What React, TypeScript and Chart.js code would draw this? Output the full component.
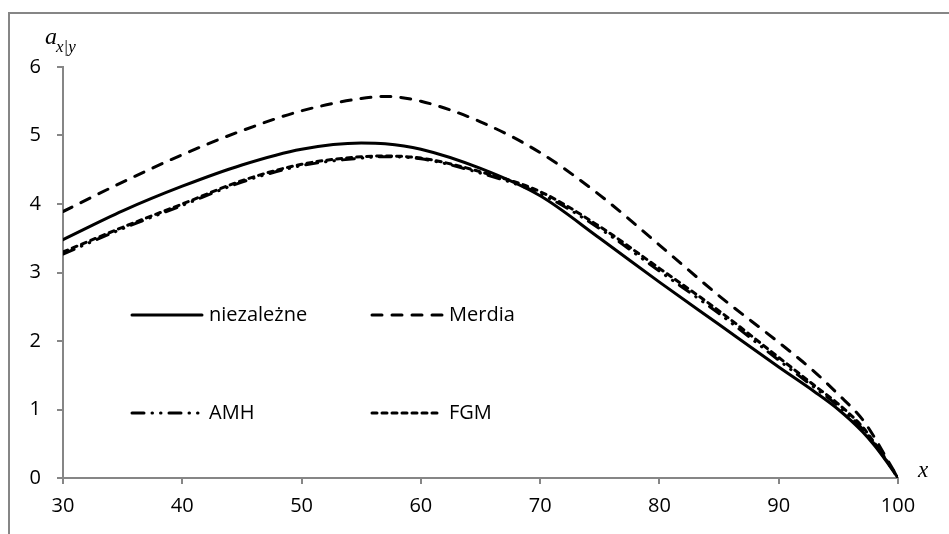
import React, { useEffect, useRef } from "react";
import { Chart, registerables } from "chart.js";

Chart.register(...registerables);

const xValues = [30, 35, 40, 45, 50, 55, 57, 60, 65, 70, 75, 80, 85, 90, 93, 95, 97, 98, 99, 100];
const niezalezne = [3.48, 3.9, 4.26, 4.57, 4.8, 4.89, 4.88, 4.8, 4.52, 4.12, 3.5, 2.86, 2.24, 1.62, 1.26, 1.0, 0.68, 0.48, 0.25, 0];
const merdia = [3.89, 4.32, 4.72, 5.07, 5.36, 5.54, 5.57, 5.5, 5.2, 4.75, 4.13, 3.4, 2.66, 1.98, 1.55, 1.22, 0.86, 0.6, 0.3, 0];
const amh = [3.27, 3.64, 3.98, 4.32, 4.56, 4.67, 4.69, 4.66, 4.45, 4.15, 3.64, 3.02, 2.4, 1.72, 1.32, 1.05, 0.72, 0.5, 0.26, 0];
const fgm = [3.3, 3.66, 4.0, 4.34, 4.58, 4.69, 4.7, 4.67, 4.47, 4.18, 3.67, 3.06, 2.44, 1.76, 1.35, 1.08, 0.75, 0.52, 0.27, 0];

const seriesNames = ["niezależne", "Merdia", "AMH", "FGM"];
const xTicks = [30, 40, 50, 60, 70, 80, 90, 100];
const yTicks = [0, 1, 2, 3, 4, 5, 6];

const FONT = "'Open Sans', sans-serif";
const AXIS_GRAY = "#868686";

const toPoints = (ys: number[]) => xValues.map((x, i) => ({ x, y: ys[i] }));

const extrasPlugin = {
  id: "extras",
  afterDraw(chart: any) {
    const ctx = chart.ctx as CanvasRenderingContext2D;
    const area = chart.chartArea;
    ctx.save();
    // legend (2x2 grid inside plot)
    const cols = [69, 309];
    const rows = [248, 346];
    const sampleLen = 70;
    chart.data.datasets.forEach((ds: any, i: number) => {
      const cx = area.left + cols[i % 2];
      const cy = area.top + rows[Math.floor(i / 2)];
      ctx.save();
      ctx.strokeStyle = ds.borderColor;
      ctx.lineWidth = ds.borderWidth;
      ctx.lineCap = ds.borderCapStyle || "butt";
      ctx.setLineDash(ds.borderDash || []);
      ctx.beginPath();
      ctx.moveTo(cx, cy);
      ctx.lineTo(cx + sampleLen, cy);
      ctx.stroke();
      ctx.restore();
      ctx.fillStyle = "#000";
      ctx.font = `20px ${FONT}`;
      ctx.textBaseline = "middle";
      ctx.textAlign = "left";
      ctx.fillText(ds.label, cx + sampleLen + 7, cy);
    });
    // axis titles
    ctx.fillStyle = "#000";
    ctx.textBaseline = "alphabetic";
    ctx.textAlign = "left";
    ctx.font = "italic 24px 'Liberation Serif', serif";
    ctx.fillText("a", area.left - 18, area.top - 23);
    ctx.font = "italic 17px 'Liberation Serif', serif";
    ctx.fillText("x|y", area.left - 7, area.top - 15.5);
    ctx.font = "italic 23px 'Liberation Serif', serif";
    ctx.fillText("x", area.right + 20, area.bottom - 1);
    ctx.restore();
  },
};

export default function App() {
  const canvasRef = useRef<HTMLCanvasElement | null>(null);

  useEffect(() => {
    if (!canvasRef.current) return;
    const common = {
      borderColor: "#000",
      borderWidth: 3,
      pointRadius: 0,
      fill: false,
      cubicInterpolationMode: "monotone" as const,
      borderCapStyle: "round" as const,
      borderJoinStyle: "round" as const,
    };
    const chart = new Chart(canvasRef.current, {
      type: "line",
      data: {
        datasets: [
          { ...common, label: seriesNames[0], data: toPoints(niezalezne), borderDash: [] },
          { ...common, label: seriesNames[1], data: toPoints(merdia), borderDash: [10, 10] },
          { ...common, label: seriesNames[2], data: toPoints(amh), borderDash: [12, 8, 0.5, 8, 0.5, 8] },
          { ...common, label: seriesNames[3], data: toPoints(fgm), borderDash: [5, 5] },
        ],
      },
      options: {
        animation: false,
        responsive: false,
        maintainAspectRatio: false,
        layout: { padding: { left: 0, top: 53, right: 51, bottom: 0 } },
        plugins: { legend: { display: false }, tooltip: { enabled: false }, title: { display: false } },
        scales: {
          x: {
            type: "linear",
            min: 30,
            max: 100,
            afterBuildTicks: (scale: any) => {
              scale.ticks = xTicks.map((v) => ({ value: v }));
            },
            afterFit: (scale: any) => {
              scale.height = 56;
            },
            grid: { display: true, drawOnChartArea: false, drawTicks: true, tickLength: 6, color: AXIS_GRAY, lineWidth: 2 },
            border: { display: true, color: AXIS_GRAY, width: 2 },
            ticks: { color: "#000", font: { family: FONT, size: 20 }, padding: 10, maxRotation: 0 },
          },
          y: {
            type: "linear",
            min: 0,
            max: 6,
            afterBuildTicks: (scale: any) => {
              scale.ticks = yTicks.map((v) => ({ value: v }));
            },
            afterFit: (scale: any) => {
              scale.width = 53;
            },
            grid: { display: true, drawOnChartArea: false, drawTicks: true, tickLength: 6, color: AXIS_GRAY, lineWidth: 2 },
            border: { display: true, color: AXIS_GRAY, width: 2 },
            ticks: { color: "#000", font: { family: FONT, size: 20 }, padding: 16 },
          },
        },
      },
      plugins: [extrasPlugin],
    } as any);
    return () => chart.destroy();
  }, []);

  return (
    <div
      style={{
        position: "absolute",
        left: 8,
        top: 12,
        width: 941,
        height: 522,
        borderLeft: `2px solid ${AXIS_GRAY}`,
        borderTop: `2px solid ${AXIS_GRAY}`,
        boxSizing: "border-box",
        background: "#fff",
      }}
    >
      <canvas ref={canvasRef} width={939} height={520} style={{ display: "block", width: 939, height: 520 }} />
    </div>
  );
}
